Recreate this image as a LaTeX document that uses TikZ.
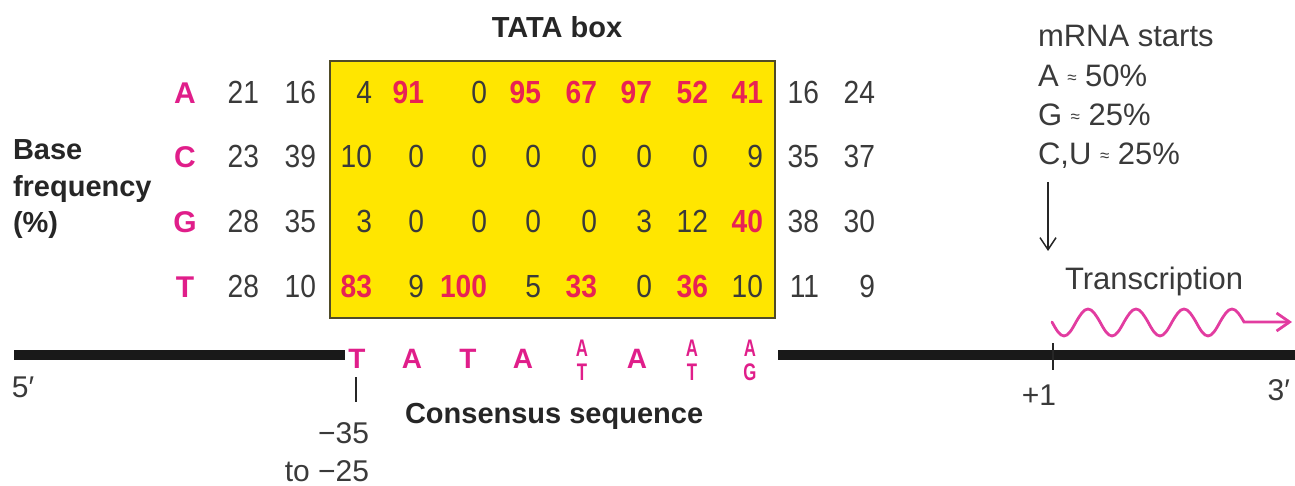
\documentclass[tikz,border=0pt]{standalone}
\usepackage{fontspec}
\setmainfont{Liberation Sans}
\newfontfamily\condfont{Liberation Sans}[FakeStretch=0.88]
\newfontfamily\narrowfont{Liberation Sans}[FakeStretch=0.7]
\usetikzlibrary{arrows.meta}
\definecolor{txtgray}{RGB}{58,58,58}
\definecolor{magent}{RGB}{224,30,138}
\definecolor{hotred}{RGB}{232,34,84}
\definecolor{boxyellow}{RGB}{255,230,0}
\definecolor{boxedge}{RGB}{80,75,40}
\definecolor{wavecol}{RGB}{226,60,160}
\newcommand\myfs[1]{\fontsize{#1}{#1}\selectfont}
\begin{document}
\begin{tikzpicture}[x=1pt,y=-1pt,
  every node/.style={inner sep=0pt, outer sep=0pt},
  num/.style={anchor=base east, font=\condfont\myfs{32}, text=txtgray},
  hinum/.style={anchor=base east, font=\condfont\myfs{32}\bfseries, text=hotred},
  baselet/.style={anchor=base, font=\myfs{30}\bfseries, text=magent},
  cons/.style={anchor=base, font=\myfs{28}\bfseries, text=magent},
  stk/.style={anchor=base, font=\narrowfont\myfs{24}\bfseries, text=magent},
  lbl/.style={font=\myfs{29}\bfseries, text=black!85},
  plain/.style={font=\myfs{30}, text=txtgray},
  dna/.style={line width=10pt, black!90},
  tickline/.style={line width=1.6pt, black!85},
]
\useasboundingbox (0,0) rectangle (1295,486);

% TATA box
\node[draw=boxedge, line width=1.8pt, fill=boxyellow, minimum width=445pt,
      minimum height=257pt, anchor=north west] (tatabox) at (330,61) {};
\node[lbl, anchor=base] (tata) at (557,38) {TATA box};

% left label
\node[lbl, anchor=base west] (lb1) at (13,160) {Base};
\node[lbl, anchor=base west] (lb2) at (13,197) {frequency};
\node[lbl, anchor=base west] (lb3) at (13,233) {(\%)};

% row letters
\node[baselet] (rA) at (185,104) {A};
\node[baselet] (rC) at (185,168) {C};
\node[baselet] (rG) at (185,233) {G};
\node[baselet] (rT) at (185,297) {T};

% row A
\foreach \x/\v in {259/21,316/16,372/4,487/0,819/16,875/24}
  \node[num] (A-\x) at (\x,104) {\v};
\foreach \x/\v in {424/91,541/95,597/67,652/97,708/52,763/41}
  \node[hinum] (A-\x) at (\x,104) {\v};
% row C
\foreach \x/\v in {259/23,316/39,372/10,424/0,487/0,541/0,597/0,652/0,708/0,763/9,819/35,875/37}
  \node[num] (C-\x) at (\x,168) {\v};
% row G
\foreach \x/\v in {259/28,316/35,372/3,424/0,487/0,541/0,597/0,652/3,708/12,819/38,875/30}
  \node[num] (G-\x) at (\x,233) {\v};
\foreach \x/\v in {763/40}
  \node[hinum] (G-\x) at (\x,233) {\v};
% row T
\foreach \x/\v in {259/28,316/10,424/9,541/5,652/0,763/10,819/11,875/9}
  \node[num] (T-\x) at (\x,297) {\v};
\foreach \x/\v in {372/83,487/100,597/33,708/36}
  \node[hinum] (T-\x) at (\x,297) {\v};

% DNA line
\coordinate (l0) at (14,355);
\coordinate (l1) at (345,355);
\coordinate (r0) at (778,355);
\coordinate (r1) at (1295,355);
\draw[dna] (l0) -- (l1);
\draw[dna] (r0) -- (r1);

% consensus sequence
\node[cons] (s1) at (357,368) {T};
\node[cons] (s2) at (412,368) {A};
\node[cons] (s3) at (468,368) {T};
\node[cons] (s4) at (523,368) {A};
\node[stk] (s5a) at (582,356) {A};
\node[stk] (s5b) at (582,380) {T};
\node[cons] (s6) at (637,368) {A};
\node[stk] (s7a) at (692,356) {A};
\node[stk] (s7b) at (692,380) {T};
\node[stk] (s8a) at (750,356) {A};
\node[stk] (s8b) at (750,380) {G};

\coordinate (ttop) at (356,377);
\coordinate (tbot) at (356,402);
\draw[tickline] (ttop) -- (tbot);
\node[plain, anchor=base east] (m35) at (369,443) {−35};
\node[plain, anchor=base east] (m25) at (369,481) {to −25};
\node[lbl, anchor=base west] (consl) at (405,423) {Consensus sequence};

\node[plain, anchor=base west] (five) at (12,397) {5′};
\node[plain, anchor=base east] (three) at (1290,400) {3′};

% +1 tick
\coordinate (ptop) at (1053,343);
\coordinate (pbot) at (1053,370);
\draw[tickline] (ptop) -- (pbot);
\node[plain, anchor=base east] (plusone) at (1056,405) {+1};

% mRNA starts
\newcommand\approxsm{\raisebox{3pt}{\myfs{17}≈}}
\node[plain, anchor=base west, font=\myfs{31}] (mr1) at (1038,47) {mRNA starts};
\node[plain, anchor=base west, font=\myfs{31}] (mr2) at (1038,87) {A \approxsm{} 50\%};
\node[plain, anchor=base west, font=\myfs{31}] (mr3) at (1038,126) {G \approxsm{} 25\%};
\node[plain, anchor=base west, font=\myfs{31}] (mr4) at (1038,165) {C,U \approxsm{} 25\%};
\coordinate (arrstart) at (1048,182);
\coordinate (arrtip) at (1048,251);
\draw[line width=1.5pt, black!85, -{Straight Barb[length=12pt,width=16pt]}] (arrstart) -- (arrtip);

% transcription
\node[plain, anchor=base west, font=\myfs{31}] (trans) at (1065,290) {Transcription};
\coordinate (w0) at (1052,322);
\coordinate (wend) at (1292,322);
\draw[wavecol, line width=2.8pt, line cap=round, -{Straight Barb[length=13pt,width=18pt]}]
  (w0) sin (1064,336) cos (1076,322) sin (1088,309) cos (1100,322)
  sin (1112,336) cos (1124,322) sin (1136,309) cos (1148,322)
  sin (1160,336) cos (1172,322) sin (1184,309) cos (1196,322)
  sin (1208,336) cos (1220,322) sin (1232,309) cos (1244,322)
  -- (wend);
\end{tikzpicture}
\end{document}
